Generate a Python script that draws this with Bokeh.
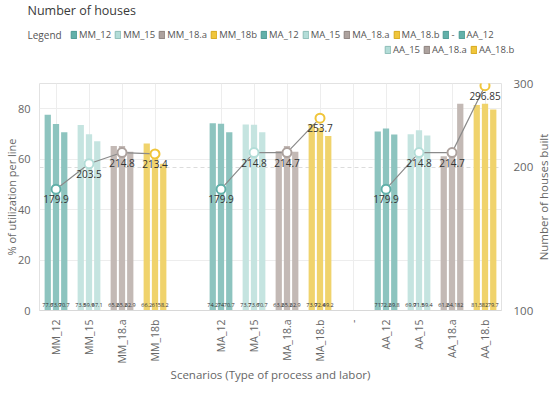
import numpy as np
from math import pi
from bokeh.plotting import figure
from bokeh.layouts import column, row
from bokeh.models import (ColumnDataSource, FactorRange, Range1d, LogScale, LinearAxis,
                          FixedTicker, Grid, Legend, LegendItem, Label, BasicTickFormatter)
from bokeh.transform import dodge
from bokeh.core.properties import value
from bokeh.embed import file_html
from bokeh.resources import INLINE

# ---------------- data ----------------
categories = ["MM_12", "MM_15", "MM_18.a", "MM_18b", " ",
              "MA_12", "MA_15", "MA_18.a", "MA_18.b", "-",
              "AA_12", "AA_15", "AA_18.a", "AA_18.b"]
util_line1 = [77.6, 73.5, 65.2, 66.2, None, 74.2, 73.7, 63.2, 73.9, None, 71.0, 69.9, 61.2, 81.5]
util_line2 = [73.9, 69.9, 65.2, 61.0, None, 74.0, 73.6, 65.2, 72.4, None, 72.2, 71.5, 64.1, 82.0]
util_line3 = [70.7, 67.1, 62.9, 58.2, None, 70.7, 70.7, 62.9, 69.2, None, 69.8, 69.4, 82.0, 79.7]
houses_built = [179.9, 203.5, 214.8, 213.4, None, 179.9, 214.8, 214.7, 253.7, None,
                179.9, 214.8, 214.7, 296.85]
legend_labels = ["MM_12", "MM_15", "MM_18.a", "MM_18b", "MA_12", "MA_15", "MA_18.a",
                 "MA_18.b", "-", "AA_12", "AA_15", "AA_18.a", "AA_18.b"]
util_ticks = [0, 20, 40, 60, 80]
houses_ticks = [100, 200, 300]

# ---------------- style ----------------
FONT = "Open Sans"
BAR_COLORS = {"12": "#8dc4bf", "15": "#c5e4e0", "18a": "#c3b9b5", "18b": "#f0d36c"}
MARK_COLORS = {"12": "#62b0a9", "15": "#b3ddd8", "18a": "#ada29e", "18b": "#f0c53a"}
EDGE_COLORS = {"12": "#4c9a93", "15": "#8dbdb7", "18a": "#8c817d", "18b": "#d6a81c"}


def kind(c):
    if c.endswith("_12") or c == "-":
        return "12"
    if c.endswith("_15"):
        return "15"
    if c.endswith("18.a"):
        return "18a"
    return "18b"


# ================= header: title + legend =================
HEADER_H = 73
hdr = figure(width=550, height=HEADER_H, x_range=FactorRange(factors=legend_labels),
             y_range=Range1d(1, 2), x_axis_type=None, y_axis_type=None,
             output_backend="svg", toolbar_location=None,
             min_border_left=0, min_border_right=0, min_border_top=0, min_border_bottom=0)
hdr.outline_line_color = None
hdr.background_fill_color = "white"
hdr.border_fill_color = "white"

sw_src = ColumnDataSource(dict(
    label=legend_labels,
    base=[0.0 for _ in legend_labels],
    fill=[MARK_COLORS[kind(l)] for l in legend_labels],
    edge=[EDGE_COLORS[kind(l)] for l in legend_labels],
))
sw = hdr.vbar(x="label", top="base", width=0.5, source=sw_src,
              fill_color="fill", line_color="edge", line_width=1)


def hlabel(x, y, text, size, color):
    hdr.add_layout(Label(x=x, y=y, x_units="screen", y_units="screen", text=text,
                         text_font=FONT, text_font_size=size, text_color=color,
                         text_align="left", text_baseline="middle"))


hlabel(27, HEADER_H - 10, "Number of houses", "12.5px", "#3a3a3a")
hlabel(27, HEADER_H - 34, "Legend", "10px", "#555555")


def make_legend(idx, loc):
    items = [LegendItem(label=legend_labels[i], renderers=[sw], index=i) for i in idx]
    return Legend(items=items, orientation="horizontal", location=loc, glyph_width=7,
                  glyph_height=9, label_standoff=2, spacing=3, padding=0, margin=0,
                  label_height=12, label_width=0, label_text_font=FONT,
                  label_text_font_size="9.5px", label_text_color="#555555",
                  border_line_color=None, background_fill_alpha=0)


hdr.add_layout(make_legend(range(0, 10), (70, HEADER_H - 40.5)))
hdr.add_layout(make_legend(range(10, 13), (384, HEADER_H - 55.5)))

# ================= main chart =================
MAIN_H = 396 - HEADER_H
SIDE_W = 14
p = figure(width=550 - SIDE_W, height=MAIN_H, x_range=FactorRange(factors=categories),
           y_range=Range1d(0, 90), output_backend="svg", toolbar_location=None,
           min_border_left=37, min_border_right=34, min_border_top=10, min_border_bottom=86)
p.extra_y_ranges = {"houses": Range1d(100, 300)}
p.extra_y_scales = {"houses": LogScale()}
p.background_fill_color = "white"
p.border_fill_color = "white"
p.outline_line_color = "#e2e2e2"

# grids
p.xgrid.grid_line_color = "#ededed"
p.ygrid.ticker = FixedTicker(ticks=util_ticks)
p.ygrid.grid_line_color = "#ededed"
p.add_layout(Grid(dimension=1, ticker=FixedTicker(ticks=houses_ticks), y_range_name="houses",
                  grid_line_color="#dcdcdc", grid_line_dash="4 3"))

# bars
offsets = [-0.25, 0.0, 0.25]
label_sources = []
for series, off in zip([util_line1, util_line2, util_line3], offsets):
    rows = [(c, v) for c, v in zip(categories, series) if v is not None]
    src = ColumnDataSource(dict(
        cat=[r[0] for r in rows],
        val=[r[1] for r in rows],
        base=[0.0 for _ in rows],
        lbl=[f"{r[1]:g}" for r in rows],
        color=[BAR_COLORS[kind(r[0])] for r in rows],
    ))
    p.vbar(x=dodge("cat", off, range=p.x_range), top="val", width=0.19,
           fill_color="color", line_color=None, source=src)
    label_sources.append((src, off))

for src, off in label_sources:
    p.text(x=dodge("cat", off, range=p.x_range), y="base", text="lbl", source=src,
           text_font=value(FONT), text_font_size="5.5px", text_color="#333333",
           text_align="center", text_baseline="middle", y_offset=-6)

# houses line
h = np.array([np.nan if v is None else v for v in houses_built], dtype=float)
p.line(x=categories, y=h, y_range_name="houses", line_color="#8a8a8a", line_width=1.2)

pts = [(c, v) for c, v in zip(categories, houses_built) if v is not None]
psrc = ColumnDataSource(dict(
    cat=[r[0] for r in pts],
    h=[r[1] for r in pts],
    lbl=[f"{r[1]:g}" for r in pts],
    edge=[MARK_COLORS[kind(r[0])] for r in pts],
))
p.scatter(x="cat", y="h", source=psrc, y_range_name="houses", marker="circle", size=9,
          fill_color="white", line_color="edge", line_width=2)
p.text(x="cat", y="h", text="lbl", source=psrc, y_range_name="houses",
       text_font=value(FONT), text_font_size="10px", text_color="#333333",
       text_align="center", text_baseline="middle", y_offset=10)

# axes
p.xaxis.major_label_orientation = pi / 2
p.xaxis.major_label_text_font = FONT
p.xaxis.major_label_text_font_size = "10.5px"
p.xaxis.major_label_text_color = "#666666"
p.xaxis.major_tick_line_color = None
p.xaxis.minor_tick_line_color = None
p.xaxis.axis_line_color = "#d8d8d8"
p.xaxis.major_label_standoff = 3
p.xaxis.axis_label = "Scenarios (Type of process and labor)"
p.xaxis.axis_label_text_font = FONT
p.xaxis.axis_label_text_font_size = "11.5px"
p.xaxis.axis_label_text_font_style = "normal"
p.xaxis.axis_label_text_color = "#666666"
p.xaxis.axis_label_standoff = 0

p.yaxis.ticker = FixedTicker(ticks=util_ticks)
p.yaxis.major_label_text_font = FONT
p.yaxis.major_label_text_font_size = "11px"
p.yaxis.major_label_text_color = "#666666"
p.yaxis.major_tick_line_color = None
p.yaxis.minor_tick_line_color = None
p.yaxis.axis_line_color = None
p.yaxis.major_label_standoff = 3
p.yaxis.axis_label = "% of utilization per line"
p.yaxis.axis_label_text_font = FONT
p.yaxis.axis_label_text_font_size = "11px"
p.yaxis.axis_label_text_font_style = "normal"
p.yaxis.axis_label_text_color = "#666666"
p.yaxis.axis_label_standoff = -4

ra = LinearAxis(y_range_name="houses", ticker=FixedTicker(ticks=houses_ticks),
                formatter=BasicTickFormatter(), major_tick_line_color=None,
                minor_tick_line_color=None, axis_line_color=None, major_label_standoff=6,
                major_label_text_font=FONT, major_label_text_font_size="11.5px",
                major_label_text_color="#666666")
p.add_layout(ra, "right")

# ================= right-hand axis title =================
side = figure(width=SIDE_W, height=MAIN_H, x_range=Range1d(0, 1), y_range=Range1d(0, 1),
              x_axis_type=None, y_axis_type=None, output_backend="svg",
              toolbar_location=None, min_border_left=0, min_border_right=0,
              min_border_top=10, min_border_bottom=86)
side.outline_line_color = None
side.background_fill_color = "white"
side.border_fill_color = "white"
side.add_layout(Label(x=SIDE_W / 2, y=(MAIN_H - 96) / 2, x_units="screen", y_units="screen",
                      text="Number of houses built", text_font=FONT,
                      text_font_size="11.5px", text_color="#666666", text_align="center",
                      text_baseline="middle", angle=pi / 2))

layout = column(hdr, row(p, side, spacing=0), spacing=0)
open("out.html", "w").write(file_html(layout, INLINE))
